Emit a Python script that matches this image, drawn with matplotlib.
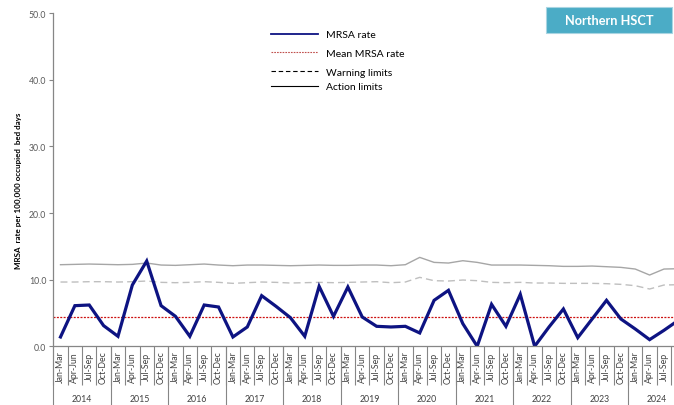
import numpy as np
import matplotlib
matplotlib.use('Agg')
import matplotlib.pyplot as plt
from matplotlib.lines import Line2D
from matplotlib.patches import Rectangle

plt.rcParams['font.family'] = ['Lato', 'DejaVu Sans']

years = ['2014', '2015', '2016', '2017', '2018', '2019',
         '2020', '2021', '2022', '2023', '2024']
quarters = ['Jan-Mar', 'Apr-Jun', 'Jul-Sep', 'Oct-Dec']

# quarterly values, 2014 Jan-Mar .. 2024 Oct-Dec (last point falls off the picture)
mrsa_rate = [1.4, 6.1, 6.2, 3.1,
             1.5, 9.2, 12.8, 6.1,
             4.5, 1.5, 6.2, 5.9,
             1.4, 2.9, 7.6, 6.0,
             4.3, 1.5, 9.0, 4.5,
             8.9, 4.4, 3.0, 2.9,
             3.0, 2.0, 6.9, 8.4,
             3.4, 0.0, 6.3, 3.0,
             7.8, 0.0, 2.9, 5.6,
             1.3, 4.1, 6.9, 4.1,
             2.6, 1.0, 2.4, 3.9]
mean_rate = 4.4
warning_limit = [9.65, 9.65, 9.7, 9.7,
                 9.65, 9.7, 9.8, 9.6,
                 9.55, 9.6, 9.7, 9.6,
                 9.45, 9.55, 9.65, 9.6,
                 9.5, 9.55, 9.6, 9.55,
                 9.6, 9.65, 9.7, 9.55,
                 9.65, 10.35, 9.85, 9.8,
                 9.95, 9.85, 9.6, 9.55,
                 9.6, 9.5, 9.5, 9.45,
                 9.45, 9.45, 9.4, 9.3,
                 9.1, 8.6, 9.2, 9.25]
action_limit = [12.25, 12.3, 12.35, 12.3,
                12.25, 12.3, 12.5, 12.2,
                12.15, 12.25, 12.35, 12.2,
                12.1, 12.2, 12.2, 12.15,
                12.1, 12.15, 12.2, 12.15,
                12.15, 12.2, 12.2, 12.1,
                12.25, 13.35, 12.6, 12.5,
                12.85, 12.6, 12.2, 12.2,
                12.2, 12.15, 12.1, 12.0,
                12.0, 12.05, 11.95, 11.85,
                11.6, 10.7, 11.6, 11.65]

n = len(mrsa_rate)
x = np.arange(n)
qlabels = [quarters[i % 4] for i in range(n)]
qlabels[-1] = ''  # cut off in the original

fig = plt.figure(figsize=(6.74, 4.06), dpi=100)
# plot area runs past the right edge, like the cropped original
ax = fig.add_axes([0.0791, 0.1446, 0.938, 0.8202])

ax.plot(x, action_limit, color='#a6a6a6', lw=1.0)
ax.plot(x, warning_limit, color='#bfbfbf', lw=1.0, dashes=(5, 3))
ax.axhline(mean_rate, color='#cc1010', lw=0.9, ls=(0, (1.6, 1.1)))
ax.plot(x, mrsa_rate, color='#0d1382', lw=2.3, solid_joinstyle='miter')

ax.set_xlim(-0.5, n - 0.5)
ax.set_ylim(0, 50)
ax.set_yticks(np.arange(0, 51, 10))
ax.set_yticklabels(['%.1f' % v for v in np.arange(0, 51, 10)])
ax.tick_params(axis='y', labelsize=6.3, colors='#868686', labelcolor='#595959',
               length=3, width=0.8, pad=2)

for s in ['top', 'right']:
    ax.spines[s].set_visible(False)
for s in ['left', 'bottom']:
    ax.spines[s].set_color('#868686')
    ax.spines[s].set_linewidth(0.9)

# quarter separators and labels
ax.set_xticks(np.arange(n + 1) - 0.5)
ax.set_xticklabels([])
ax.tick_params(axis='x', which='major', length=28, width=0.8, color='#868686')
ax.set_xticks(x, minor=True)
ax.set_xticklabels(qlabels, minor=True, rotation=90, va='center', fontsize=6.3,
                   color='#404040')
ax.tick_params(axis='x', which='minor', length=0, pad=14.5)

# year separators and labels
sec = ax.secondary_xaxis('bottom')
sec.set_xticks(np.arange(0, n + 1, 4) - 0.5)
sec.set_xticklabels([])
sec.tick_params(axis='x', which='major', length=44, width=0.8, color='#868686')
sec.set_xticks(np.arange(len(years)) * 4 + 1.5, minor=True)
sec.set_xticklabels(years, minor=True, fontsize=6.3, color='#404040')
sec.tick_params(axis='x', which='minor', length=0, pad=34)
sec.spines['bottom'].set_visible(False)

fig.text(18 / 674, 1 - 191 / 406, 'MRSA  rate per 100,000 occupied  bed days',
         rotation=90, ha='center', va='center', fontsize=5.8, fontweight='bold',
         color='#000000')

# legend
h1 = [Line2D([], [], color='#0d1382', lw=1.3),
      Line2D([], [], color='#c0504d', lw=0.8, ls=(0, (1.5, 1))),
      Line2D([], [], color='#000000', lw=0.8, dashes=(4, 2.5))]
leg1 = ax.legend(h1, ['MRSA rate', 'Mean MRSA rate', 'Warning limits'],
                 loc='upper left', bbox_to_anchor=(0.4016, 0.924),
                 bbox_transform=fig.transFigure, frameon=False, fontsize=7.5,
                 handlelength=4.5, handletextpad=0.8, labelspacing=0.91,
                 borderpad=0, borderaxespad=0)
ax.add_artist(leg1)
h2 = [Line2D([], [], color='#000000', lw=0.8)]
ax.legend(h2, ['Action limits'], loc='upper left', bbox_to_anchor=(0.4016, 0.7956),
          bbox_transform=fig.transFigure, frameon=False, fontsize=7.5,
          handlelength=4.5, handletextpad=0.8, borderpad=0, borderaxespad=0)

# title box
fig.patches.append(Rectangle((546 / 674, 1 - 34 / 406), 126 / 674, 26 / 406,
                             transform=fig.transFigure, facecolor='#4bacc6',
                             edgecolor='#a9d5e2', lw=0.8))
fig.text(609 / 674, 1 - 21 / 406, 'Northern HSCT', ha='center', va='center',
         fontsize=9.2, fontweight='bold', color='white')

fig.savefig('out.png', dpi=100)
